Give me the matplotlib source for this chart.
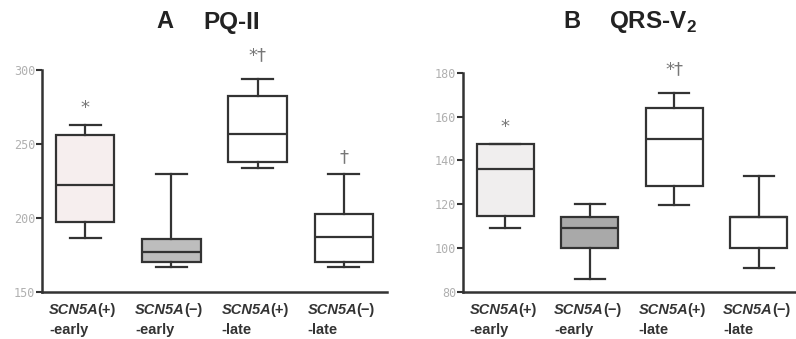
import matplotlib
matplotlib.use("Agg")
import matplotlib.pyplot as plt

plt.rcParams['font.family'] = ['Liberation Sans', 'DejaVu Sans']

group_names = ["SCN5A", "SCN5A", "SCN5A", "SCN5A"]
group_signs = ["(+)", "(\u2212)", "(+)", "(\u2212)"]
group_phase = ["-early", "-early", "-late", "-late"]

# PQ-II (ms)
pq_whislo = [186.5, 166.7, 233.6, 166.7]
pq_q1 = [197.0, 170.5, 238.0, 170.5]
pq_med = [222.0, 177.0, 256.8, 187.4]
pq_q3 = [256.3, 186.0, 282.2, 203.0]
pq_whishi = [262.8, 229.5, 293.7, 229.5]
pq_marks = ["*", "", "*\u2020", "\u2020"]

# QRS-V2 (ms)
qrs_whislo = [109.1, 86.1, 119.7, 91.1]
qrs_q1 = [114.5, 100.2, 128.4, 100.2]
qrs_med = [135.9, 109.3, 149.7, 114.1]
qrs_q3 = [147.6, 114.1, 163.8, 114.1]
qrs_whishi = [147.6, 119.9, 170.6, 132.7]
qrs_marks = ["*", "", "*\u2020", ""]

pq_fill = ["#f6eeee", "#bdbdbd", "white", "white"]
qrs_fill = ["#f0eeee", "#a9a9a9", "white", "white"]

W, H = 796, 339
fig = plt.figure(figsize=(W / 100, H / 100), dpi=100)

line_c = "#333333"
lab_c = "#333333"


def panel(rect, whislo, q1, med, q3, whishi, fills, marks, ylim, yticks):
    ax = fig.add_axes(rect)
    stats = []
    for i in range(4):
        stats.append(dict(whislo=whislo[i], q1=q1[i], med=med[i], q3=q3[i],
                          whishi=whishi[i], fliers=[]))
    lw = 1.6
    bp = ax.bxp(stats, positions=[1, 2, 3, 4], widths=0.68, capwidths=0.36,
                patch_artist=True, showfliers=False,
                boxprops=dict(linewidth=lw, edgecolor=line_c),
                medianprops=dict(linewidth=lw, color=line_c),
                whiskerprops=dict(linewidth=lw, color=line_c),
                capprops=dict(linewidth=lw, color=line_c))
    for patch, fc in zip(bp['boxes'], fills):
        patch.set_facecolor(fc)
    ax.set_xlim(0.5, 4.5)
    ax.set_ylim(*ylim)
    ax.set_yticks(yticks)
    ax.set_yticklabels([str(t) for t in yticks], fontsize=8.5, color="#b0b0b0",
                       family="DejaVu Sans Mono")
    ax.set_xticks([])
    for s in ("top", "right"):
        ax.spines[s].set_visible(False)
    for s in ("left", "bottom"):
        ax.spines[s].set_linewidth(1.8)
        ax.spines[s].set_color(line_c)
    ax.tick_params(axis="y", length=4, width=1.5, color=line_c, pad=1)
    for i, m in enumerate(marks):
        if m:
            off = 17 if len(m) == 1 else 24
            ax.annotate(m, xy=(i + 1, whishi[i]), xytext=(0, off),
                        textcoords="offset pixels", ha="center", va="center",
                        fontsize=13, color="#777777", family="DejaVu Sans")
    tr = ax.get_xaxis_transform()
    for i in range(4):
        name = ax.text(i + 1 - 0.42, -0.05, group_names[i], transform=tr,
                       ha="left", va="top", fontsize=10.5, fontweight="bold",
                       fontstyle="italic", color=lab_c)
        ax.annotate(group_signs[i], xy=(1, 1), xycoords=name, xytext=(-1, 0),
                    textcoords="offset pixels", ha="left", va="top",
                    fontsize=10.5, fontweight="bold", color=lab_c)
        ax.annotate(group_phase[i], xy=(0, 0), xycoords=name, xytext=(0, -6),
                    textcoords="offset pixels", ha="left", va="top",
                    fontsize=10.5, fontweight="bold", color=lab_c)
    return ax


bottom = 1 - 292 / H
axA = panel([42 / W, bottom, 345 / W, 222 / H], pq_whislo, pq_q1, pq_med, pq_q3, pq_whishi,
            pq_fill, pq_marks, (150, 300), [150, 200, 250, 300])
axB = panel([463 / W, bottom, 338 / W, 219.3 / H], qrs_whislo, qrs_q1, qrs_med, qrs_q3,
            qrs_whishi, qrs_fill, qrs_marks, (80, 180), [80, 100, 120, 140, 160, 180])

fig.text(165 / W, 1 - 22 / H, "A", ha="center", va="center", fontsize=17,
         fontweight="bold", color="#222222")
fig.text(232 / W, 1 - 22 / H, "PQ-II", ha="center", va="center", fontsize=17.5,
         fontweight="bold", color="#222222")
fig.text(572 / W, 1 - 22 / H, "B", ha="center", va="center", fontsize=17,
         fontweight="bold", color="#222222")
fig.text(653 / W, 1 - 22 / H, "QRS-V$_\\mathregular{2}$", ha="center", va="center",
         fontsize=17.5, fontweight="bold", color="#222222")

fig.savefig("out.png", dpi=100)
